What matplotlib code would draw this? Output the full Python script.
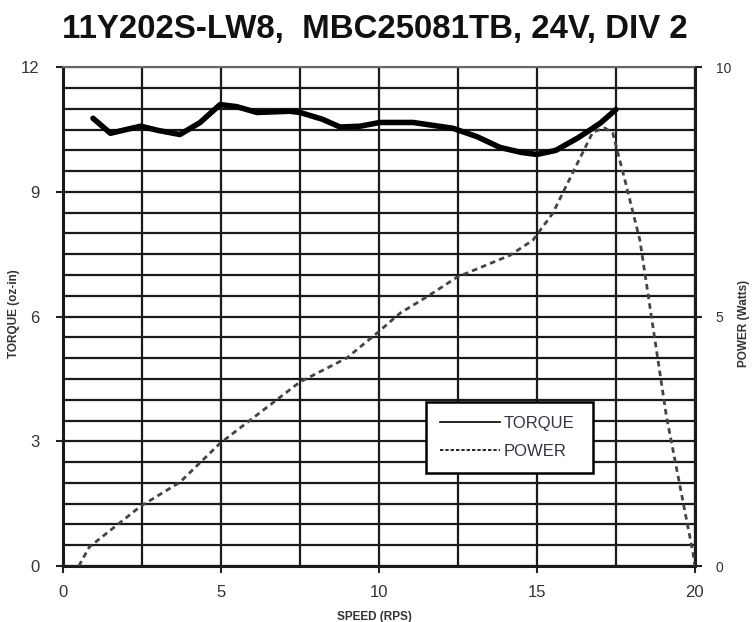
import matplotlib
matplotlib.use("Agg")
import matplotlib.pyplot as plt
import numpy as np

plt.rcParams['font.family'] = ['Liberation Sans', 'DejaVu Sans']

# torque curve (oz-in) vs speed (rps)
torque_speed = [0.95, 1.5, 2.0, 2.46, 3.0, 3.7, 4.34, 4.97, 5.5, 6.14, 7.18, 7.5,
                8.2, 8.77, 9.4, 10.03, 11.08, 12.34, 13.1, 13.83, 14.5, 15.0,
                15.6, 16.3, 17.0, 17.5]
torque = [10.77, 10.41, 10.5, 10.58, 10.48, 10.38, 10.67, 11.1, 11.05, 10.91, 10.94, 10.91,
          10.75, 10.56, 10.58, 10.67, 10.67, 10.53, 10.33, 10.07, 9.95, 9.9,
          10.0, 10.3, 10.65, 10.98]

# power curve (watts) vs speed (rps)
power_speed = [0.5, 0.83, 2.46, 3.7, 4.97, 7.5, 8.98, 9.94, 10.67, 11.6, 12.47,
               14.15, 14.87, 15.5, 16.77, 17.15, 17.4, 17.8, 18.26, 19.1, 19.94, 20.0]
power = [0.0, 0.38, 1.2, 1.68, 2.46, 3.69, 4.17, 4.67, 5.07, 5.43, 5.79,
         6.23, 6.53, 7.07, 8.7, 8.78, 8.68, 7.7, 6.53, 3.0, 0.26, 0.0]

fig = plt.figure(figsize=(7.54, 6.22), dpi=100)
ax = fig.add_axes([0.0836, 0.090, 0.838, 0.802])

ax.set_xlim(0, 20)
ax.set_ylim(0, 12)
ax.set_xticks([0, 5, 10, 15, 20])
ax.set_yticks([0, 3, 6, 9, 12])
ax.set_xticks(np.arange(0, 20.1, 2.5), minor=True)
ax.set_yticks(np.arange(0, 12.1, 0.5), minor=True)
ax.grid(which='both', color='#1a1a1a', linewidth=1.6)
ax.set_axisbelow(True)
ax.tick_params(which='minor', length=0)
ax.tick_params(which='major', length=5, width=1.5, color='#222222',
               labelsize=12, labelcolor='#333333', pad=12)
ax.tick_params(axis='x', pad=9)
for s in ax.spines.values():
    s.set_linewidth(2.2)
    s.set_color('#1a1a1a')
ax.spines['top'].set_color('#666666')
ax.spines['top'].set_linewidth(1.5)

ax.plot(torque_speed, torque, color='black', linewidth=4, solid_capstyle='round',
        solid_joinstyle='round', label='TORQUE', zorder=5)

ax2 = ax.twinx()
ax2.set_ylim(0, 10)
ax2.set_yticks([0, 5, 10])
ax2.tick_params(length=5, width=1.5, color='#222222', labelsize=10,
                labelcolor='#333333', pad=10)
for s in ax2.spines.values():
    s.set_visible(False)
ax2.plot(power_speed, power, color='#444444', linewidth=2, linestyle=(0, (2, 1.5)),
         label='POWER', zorder=5)

h1, l1 = ax.get_legend_handles_labels()
h2, l2 = ax2.get_legend_handles_labels()
leg_handles = [plt.Line2D([], [], color='black', linewidth=1.2),
               plt.Line2D([], [], color='black', linewidth=1.2, linestyle=(0, (2, 1.2)))]
leg = ax2.legend(leg_handles, l1 + l2, loc='lower left',
                 bbox_to_anchor=(0.574, 0.186, 0.265, 0.143), mode='expand',
                 fontsize=12, frameon=True, fancybox=False, shadow=False,
                 handlelength=3.6, handletextpad=0.2, borderpad=0.85,
                 labelspacing=0.8, borderaxespad=0)
leg.get_frame().set_edgecolor('black')
leg.get_frame().set_linewidth(1.8)
leg.get_frame().set_alpha(1)
for t in leg.get_texts():
    t.set_color('#333344')

fig.text(0.497, 0.952, '11Y202S-LW8,  MBC25081TB, 24V, DIV 2', ha='center', va='center',
         fontsize=23.8, fontweight='bold', color='#111111')
fig.text(0.018, 0.495, 'TORQUE (oz-in)', rotation=90, ha='center', va='center',
         fontsize=8.5, fontweight='bold', color='#333333')
fig.text(0.987, 0.48, 'POWER (Watts)', rotation=90, ha='center', va='center',
         fontsize=8.5, fontweight='bold', color='#333333')
fig.text(0.497, 0.008, 'SPEED (RPS)', ha='center', va='center',
         fontsize=8.5, fontweight='bold', color='#333333')

fig.savefig('out.png', dpi=100)
